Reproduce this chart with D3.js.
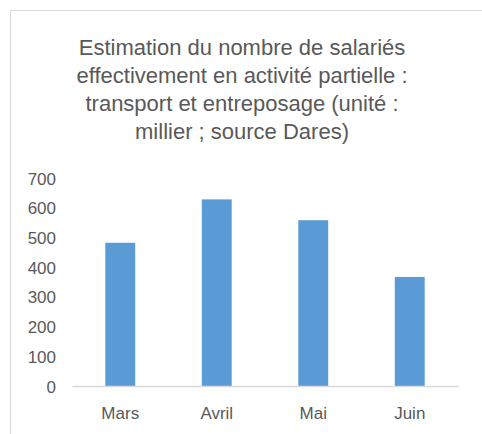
<!DOCTYPE html>
<html><head><meta charset="utf-8">
<script src="https://cdn.jsdelivr.net/npm/d3@7"></script>
<style>html,body{margin:0;padding:0;background:#fff;overflow:hidden;}svg{display:block;}</style>
</head><body>
<script>
const categories = ["Mars", "Avril", "Mai", "Juin"];
const values = [482, 628, 558, 367];
const yTicks = [0, 100, 200, 300, 400, 500, 600, 700];
const titleLines = ["Estimation du nombre de salariés", "effectivement en activité partielle :", "transport et entreposage (unité :", "millier ; source Dares)"];

const W = 482, H = 434;
const svg = d3.select("body").append("svg").attr("width", W).attr("height", H);
const font = "'Liberation Sans', Arial, sans-serif";
const grey = "#595959";

svg.append("line").attr("x1", 10.5).attr("x2", W).attr("y1", 10.5).attr("y2", 10.5)
  .attr("stroke", "#d9d9d9").attr("stroke-width", 1);
svg.append("line").attr("x1", 10.5).attr("x2", 10.5).attr("y1", 10.5).attr("y2", H)
  .attr("stroke", "#d9d9d9").attr("stroke-width", 1);

svg.append("g").selectAll("text").data(titleLines).join("text")
  .attr("x", 242).attr("y", (d, i) => 55 + i * 28)
  .attr("text-anchor", "middle").attr("font-family", font).attr("font-size", 22)
  .attr("fill", grey).text(d => d);

const x = d3.scaleBand().domain(categories).range([72, 458]).paddingInner(0.69).paddingOuter(0.345);
const y = d3.scaleLinear().domain([0, 700]).range([386, 178]);

const yAxis = svg.append("g").attr("transform", "translate(56,0)")
  .call(d3.axisLeft(y).tickValues(yTicks).tickSize(0).tickPadding(0));
yAxis.select(".domain").remove();
yAxis.selectAll("text").attr("font-family", font).attr("font-size", 17).attr("fill", grey).attr("dy", "0.36em");

svg.append("g").selectAll("rect").data(values).join("rect")
  .attr("x", (d, i) => x(categories[i])).attr("width", x.bandwidth())
  .attr("y", d => y(d)).attr("height", d => y(0) - y(d))
  .attr("fill", "#5b9bd5");

const xAxis = svg.append("g").attr("transform", `translate(0,${y(0)})`)
  .call(d3.axisBottom(x).tickSize(0).tickPadding(20));
xAxis.select(".domain").attr("stroke", "#d9d9d9").attr("stroke-width", 1.3);
xAxis.selectAll("text").attr("font-family", font).attr("font-size", 17).attr("fill", grey)
  .attr("dy", null).attr("y", 33);
</script>
</body></html>
